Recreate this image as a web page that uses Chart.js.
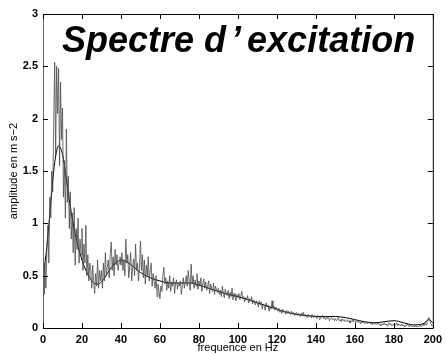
<!DOCTYPE html>
<html>
<head>
<meta charset="utf-8">
<script src="https://cdn.jsdelivr.net/npm/chart.js@4"></script>
<style>
  html, body { margin: 0; padding: 0; background: #fff; }
  #wrap { position: relative; width: 447px; height: 355px; }
  #title {
    position: absolute; left: 62px; top: 22px;
    font: italic bold 36px "Liberation Sans", Arial, sans-serif;
    line-height: 36px; color: #000; white-space: nowrap;
  }
  #title .ap { margin: 0 6px 0 5px; }
</style>
</head>
<body>
<div id="wrap">
  <canvas id="chart" width="447" height="355"></canvas>
  <div id="title">Spectre d<span class="ap">’</span>excitation</div>
</div>
<script>
// ===== measured spectrum, 0.5 Hz steps from 0 to 200 Hz =====
const spectrumAmp = [
  0.55,0.32,0.62,0.38,0.75,0.98,0.62,1.25,1.05,1.5,1.3,1.95,2.54,1.65,2.5,2.05,2.48,1.55,2.35,1.8,
  2.1,1.25,1.6,1.05,1.9,1.2,1.45,0.95,1.3,0.85,1.1,0.72,1.15,0.6,0.95,0.75,1.05,0.62,0.85,0.7,
  0.95,0.55,0.8,0.62,0.98,0.5,0.7,0.45,0.62,0.55,0.38,0.6,0.45,0.33,0.52,0.4,0.65,0.38,0.55,0.45,
  0.55,0.38,0.62,0.45,0.72,0.5,0.58,0.65,0.48,0.7,0.82,0.55,0.68,0.5,0.75,0.6,0.7,0.55,0.62,0.68,
  0.6,0.72,0.55,0.65,0.5,0.85,0.62,0.7,0.48,0.6,0.72,0.45,0.58,0.66,0.5,0.8,0.55,0.62,0.45,0.58,
  0.83,0.55,0.7,0.48,0.65,0.42,0.6,0.5,0.68,0.45,0.55,0.62,0.4,0.52,0.45,0.38,0.5,0.3,0.42,0.35,
  0.28,0.4,0.35,0.5,0.58,0.42,0.48,0.36,0.45,0.38,0.5,0.35,0.44,0.4,0.48,0.33,0.42,0.46,0.37,0.43,
  0.4,0.45,0.32,0.42,0.48,0.38,0.44,0.5,0.4,0.55,0.45,0.36,0.61,0.42,0.5,0.38,0.46,0.4,0.52,0.37,
  0.45,0.4,0.48,0.35,0.42,0.47,0.38,0.44,0.36,0.4,0.45,0.33,0.42,0.38,0.35,0.43,0.32,0.4,0.37,0.34,
  0.38,0.32,0.36,0.3,0.4,0.34,0.29,0.37,0.33,0.31,0.36,0.28,0.34,0.3,0.38,0.27,0.33,0.3,0.26,0.32,
  0.29,0.33,0.27,0.31,0.35,0.28,0.3,0.25,0.29,0.27,0.31,0.24,0.28,0.26,0.3,0.23,0.27,0.25,0.22,0.26,
  0.24,0.2,0.26,0.22,0.25,0.18,0.23,0.21,0.17,0.24,0.2,0.22,0.16,0.2,0.18,0.26,0.19,0.21,0.17,0.2,
  0.18,0.16,0.19,0.15,0.17,0.14,0.18,0.15,0.16,0.13,0.17,0.14,0.16,0.15,0.13,0.16,0.14,0.15,0.12,0.14,
  0.15,0.12,0.14,0.13,0.11,0.14,0.12,0.15,0.11,0.13,0.12,0.1,0.13,0.11,0.12,0.1,0.13,0.11,0.1,0.12,
  0.11,0.09,0.12,0.1,0.08,0.11,0.1,0.12,0.09,0.1,0.08,0.11,0.09,0.1,0.07,0.09,0.1,0.08,0.09,0.07,
  0.09,0.07,0.08,0.1,0.07,0.08,0.06,0.09,0.07,0.08,0.06,0.07,0.08,0.06,0.07,0.05,0.07,0.06,0.08,0.06,
  0.07,0.05,0.06,0.07,0.05,0.06,0.04,0.06,0.05,0.06,0.04,0.05,0.06,0.04,0.05,0.06,0.04,0.05,0.03,0.05,
  0.04,0.05,0.03,0.04,0.05,0.03,0.04,0.02,0.04,0.03,0.05,0.03,0.04,0.02,0.03,0.05,0.03,0.04,0.02,0.03,
  0.04,0.02,0.03,0.05,0.02,0.04,0.03,0.02,0.04,0.02,0.03,0.01,0.03,0.02,0.04,0.02,0.01,0.03,0.02,0.01,
  0.02,0.01,0.03,0.01,0.02,0.01,0.02,0.03,0.01,0.02,0.04,0.02,0.05,0.03,0.06,0.08,0.1,0.07,0.04,0.02,
  0.03
];
const spectrumStep = 0.5; // Hz between samples
const spectrumFreq = spectrumAmp.map((_, i) => i * spectrumStep);

// ===== smooth fitted curve =====
const fitFreq = [0,2,4,6,8,10,12,14,16,18,20,22,24,26,28,30,32,34,36,38,40,42,44,46,48,50,
  55,60,65,70,75,80,85,90,95,100,105,110,115,120,125,130,135,140,145,150,155,160,165,170,175,180,185,190,195,198,200];
const fitAmp = [0.48,0.78,1.2,1.58,1.74,1.66,1.42,1.16,0.95,0.78,0.65,0.55,0.48,0.43,0.42,0.44,0.49,0.55,0.6,0.63,0.65,0.64,0.62,0.59,0.56,0.53,
  0.48,0.45,0.43,0.43,0.43,0.41,0.38,0.35,0.32,0.3,0.27,0.24,0.21,0.18,0.15,0.13,0.12,0.11,0.11,0.11,0.1,0.08,0.06,0.05,0.06,0.07,0.05,0.03,0.04,0.08,0.05];

// ===== axes =====
const xMin = 0, xMax = 200, xStep = 20;
const yMin = 0, yMax = 3, yStep = 0.5;

const toPoints = (xs, ys) => xs.map((x, i) => ({ x, y: ys[i] }));

// frame + inward ticks, matlab style
const framePlugin = {
  id: "frame",
  afterDraw(chart) {
    const { ctx, chartArea: a, scales } = chart;
    const len = 5;
    ctx.save();
    ctx.lineWidth = 1;
    ctx.strokeStyle = "#000";
    ctx.beginPath();
    ctx.moveTo(a.left + 0.5, a.top + 0.5);
    ctx.lineTo(a.right + 0.5, a.top + 0.5);
    ctx.lineTo(a.right + 0.5, a.bottom + 0.5);
    ctx.lineTo(a.left + 0.5, a.bottom + 0.5);
    ctx.stroke();
    ctx.strokeStyle = "#666";
    ctx.beginPath();
    ctx.moveTo(a.left + 0.5, a.top + 0.5);
    ctx.lineTo(a.left + 0.5, a.bottom + 0.5);
    ctx.stroke();

    ctx.strokeStyle = "#000";
    ctx.beginPath();
    scales.x.ticks.forEach((t) => {
      const px = Math.round(scales.x.getPixelForValue(t.value)) + 0.5;
      ctx.moveTo(px, a.bottom);
      ctx.lineTo(px, a.bottom - len);
      ctx.moveTo(px, a.top);
      ctx.lineTo(px, a.top + len);
    });
    scales.y.ticks.forEach((t) => {
      const py = Math.round(scales.y.getPixelForValue(t.value)) + 0.5;
      ctx.moveTo(a.left, py);
      ctx.lineTo(a.left + len, py);
      ctx.moveTo(a.right, py);
      ctx.lineTo(a.right - len, py);
    });
    ctx.stroke();
    ctx.restore();
  },
};

const tickFont = { family: "'Liberation Sans', Arial, sans-serif", size: 11, weight: "bold" };
const titleFont = { family: "'Liberation Sans', Arial, sans-serif", size: 11 };

new Chart(document.getElementById("chart"), {
  type: "line",
  data: {
    datasets: [
      {
        label: "spectre",
        data: toPoints(spectrumFreq, spectrumAmp),
        borderColor: "#4a4a4a",
        borderWidth: 0.8,
        pointRadius: 0,
        tension: 0,
        fill: false,
      },
      {
        label: "lissage",
        data: toPoints(fitFreq, fitAmp),
        borderColor: "#000",
        borderWidth: 1,
        pointRadius: 0,
        cubicInterpolationMode: "monotone",
        fill: false,
      },
    ],
  },
  options: {
    responsive: false,
    animation: false,
    devicePixelRatio: 1,
    layout: { padding: { left: 0, top: 14, right: 9, bottom: 0 } },
    plugins: {
      legend: { display: false },
      tooltip: { enabled: false },
    },
    scales: {
      x: {
        type: "linear",
        min: xMin,
        max: xMax,
        ticks: { stepSize: xStep, color: "#000", font: tickFont, padding: 5, maxRotation: 0 },
        grid: { display: false, drawTicks: false },
        border: { display: false },
        title: { display: true, text: "frequence en Hz", color: "#000", font: titleFont, padding: { top: 0, bottom: 0 } },
        afterFit: (scale) => { scale.height = 27; },
      },
      y: {
        min: yMin,
        max: yMax,
        ticks: {
          stepSize: yStep,
          color: "#000",
          font: tickFont,
          padding: 5,
          callback: (v) => String(v),
        },
        grid: { display: false, drawTicks: false },
        border: { display: false },
        title: { display: true, text: "amplitude en m s\u22122", color: "#000", font: titleFont, padding: { top: 7, bottom: 0 } },
        afterFit: (scale) => { scale.width = 43; },
      },
    },
  },
  plugins: [framePlugin],
});
</script>
</body>
</html>
